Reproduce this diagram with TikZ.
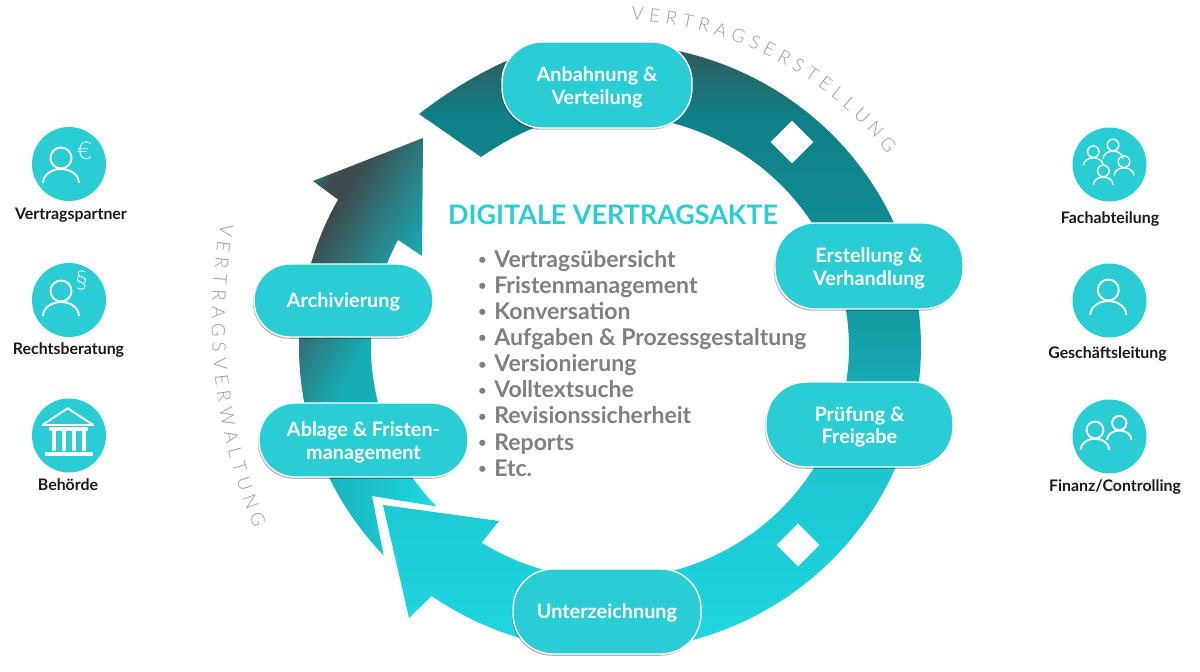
\documentclass[tikz,border=0pt]{standalone}
\usepackage{fontspec}
\setmainfont{Lato}
\newfontfamily\thinfont{Lato Light}
\usetikzlibrary{shapes.geometric,shadows,decorations.text}
\definecolor{pillcyan}{HTML}{2BCDD4}
\definecolor{ringcyan}{HTML}{1FD8E2}
\definecolor{listgray}{HTML}{7F7F7F}
\definecolor{ringdark}{HTML}{3E4B4D}
\definecolor{ringteal}{HTML}{0F8087}
\definecolor{ringmid}{HTML}{128F96}
\definecolor{ringlow}{HTML}{1BB5BE}
\definecolor{ringbright}{HTML}{1CC2CC}
\definecolor{arrowend}{HTML}{17ADB5}
\definecolor{arrowtip}{HTML}{1A8A90}
\pgfdeclareverticalshading{topshade}{100bp}{color(0bp)=(ringmid); color(25bp)=(ringmid); color(56bp)=(ringteal); color(75bp)=(ringdark); color(100bp)=(ringdark)}
\pgfdeclarehorizontalshading{arrowshade}{100bp}{color(0bp)=(arrowtip); color(24bp)=(arrowtip); color(31bp)=(ringdark); color(35bp)=(ringdark); color(60bp)=(arrowend); color(100bp)=(arrowend)}
\def\outr#1{([shift={(c)}]#1:311 and 304)}
\def\innr#1{([shift={(c)}]#1:239 and 232)}
\def\oarc#1#2{arc[start angle=#1,end angle=#2,x radius=311,y radius=304]}
\def\iarc#1#2{arc[start angle=#1,end angle=#2,x radius=239,y radius=232]}
\def\dotitem{\makebox[.32cm][l]{\raisebox{.12em}{\fontsize{8}{8}\selectfont\textbullet}}}
\tikzset{
pill/.style={rectangle,rounded corners=.8cm,draw=white,line width=.8pt,fill=pillcyan,text=white,align=center,font=\fontsize{11.3}{13}\selectfont\bfseries,drop shadow={shadow xshift=-.6pt,shadow yshift=-1pt,opacity=.3,fill=black}},
oneline/.style={text height=10.2pt},
twoline/.style={text height=24.2pt},
disc/.style={circle,fill=pillcyan,minimum size=1.48cm,inner sep=0pt},
who/.style={text=black!90,font=\fontsize{9.05}{10}\selectfont\bfseries,inner sep=0pt},
gem/.style={diamond,fill=white,minimum size=.86cm,inner sep=0pt},
sign/.style={text=white,inner sep=0pt,font=\thinfont\fontsize{14}{14}\selectfont},
pics/person/.style={code={
\draw[white,line width=#1] (0,0) circle[radius=10.5];
\draw[white,line width=#1] (-18,25) arc[start angle=-180,end angle=0,x radius=18,y radius=14];
}},
pics/person/.default=1.1pt
}
\begin{document}
\begin{tikzpicture}[x=.02cm,y=-.02cm]
\useasboundingbox (0,0) rectangle (1200,672);
\coordinate (c) at (610,347);
% ring
\shade[shading=topshade] (419,114) .. controls (450,90) and (480,73) .. (504,62) \oarc{-110}{-15.6} -- \innr{-20.7} \iarc{-20.7}{-105} .. controls (525,130) and (503,142) .. (481,157) -- cycle;
\shade[top color=ringmid,bottom color=ringlow] \outr{-15.6} \oarc{-15.6}{14.9} -- \innr{19.6} \iarc{19.6}{-20.7} -- cycle;
\shade[top color=ringbright,middle color=ringcyan,bottom color=ringcyan] \outr{14.9} \oarc{14.9}{125} -- (409,618) -- (383,505) -- (499,521) -- \innr{122.5} \iarc{122.5}{19.6} -- cycle;
\shade[left color=arrowend,right color=ringcyan] (372,496) -- \outr{136.7} \oarc{136.7}{162.2} -- \innr{156.4} \iarc{156.4}{136.6} -- cycle;
\shade[shading=arrowshade,shading angle=-30] \outr{162.2} \oarc{162.2}{209} -- (313,181) -- (423,138) -- (422,256) -- \innr{207.5} \iarc{207.5}{156.4} -- cycle;
\node[gem] (upgem) at (792,142) {};
\node[gem] (lowgem) at (798,545) {};
% steps
\node[pill,twoline,minimum width=3.8cm,minimum height=1.72cm] (anb) at (597,85) {Anbahnung \&\\Verteilung};
\node[pill,twoline,minimum width=3.76cm,minimum height=1.72cm] (erst) at (869,266) {Erstellung \&\\Verhandlung};
\node[pill,twoline,minimum width=3.74cm,minimum height=1.7cm] (pruef) at (859.5,424.5) {Prüfung \&\\Freigabe};
\node[pill,oneline,minimum width=3.76cm,minimum height=1.7cm] (unter) at (607,611.5) {Unterzeichnung};
\node[pill,twoline,minimum width=4.18cm,minimum height=1.48cm,rounded corners=.72cm] (abl) at (363.5,440) {Ablage \& Fristen-\\management};
\node[pill,oneline,minimum width=3.58cm,minimum height=1.46cm,rounded corners=.72cm] (arch) at (343.5,300.5) {Archivierung};
% centre text
\node[text=pillcyan,font=\fontsize{15.3}{16}\selectfont\bfseries,inner sep=0pt] (head) at (613,215) {DIGITALE VERTRAGSAKTE};
\node[text=listgray,font=\fontsize{13.1}{14.85}\selectfont\bfseries,align=left,anchor=north west,inner sep=0pt] (list) at (478,250) {%
\dotitem Vertragsübersicht\\
\dotitem Fristenmanagement\\
\dotitem Konversation\\
\dotitem Aufgaben \& Prozessgestaltung\\
\dotitem Versionierung\\
\dotitem Volltextsuche\\
\dotitem Revisionssicherheit\\
\dotitem Reports\\
\dotitem Etc.};
% curved titles
\path[decorate,decoration={text along path,text={|\thinfont\fontsize{10.5}{12}\selectfont\color{black!40}|VERTRAGSERSTELLUNG},text align=fit to path}] ([shift={(610,352)}]-86.5:345 and 333) arc[start angle=-86.5,end angle=-36.5,x radius=345,y radius=333];
\path[decorate,decoration={text along path,text={|\thinfont\fontsize{10.5}{12}\selectfont\color{black!40}|VERTRAGSVERWALTUNG},text align=fit to path}] ([shift={(744,320)}]190.5:532) arc[start angle=190.5,end angle=157,radius=532];
% left column
\node[disc] (partner) at (69,164) {};
\node[disc] (recht) at (69,300) {};
\node[disc] (amt) at (69,435.5) {};
\node[who] (partnerl) at (71,215.5) {Vertragspartner};
\node[who] (rechtl) at (68.5,350.5) {Rechtsberatung};
\node[who] (amtl) at (68,485) {Behörde};
\pic at (61,158) {person};
\pic at (61,291) {person};
\node[sign] (euro) at (84.5,151) {€};
\node[sign] (para) at (81.5,281) {§};
\draw[white,line width=1.1pt,line join=round] (42.5,425) -- (67.7,408.3) -- (93.3,425) -- cycle;
\fill[white] (49,426.5) rectangle (88,430.5);
\fill[white] (45,451.5) rectangle (92.7,456);
\foreach \colx in {52,62,72,81.5} \fill[white] (\colx,431) rectangle ++(4,20);
% right column
\node[disc] (fach) at (1109.5,164.5) {};
\node[disc] (chef) at (1109.5,300.5) {};
\node[disc] (fin) at (1109.5,436.5) {};
\node[who] (fachl) at (1110,219.5) {Fachabteilung};
\node[who] (chefl) at (1107.5,354.5) {Geschäftsleitung};
\node[who] (finl) at (1115,487) {Finanz/Controlling};
\pic[scale=.55] at (1093.3,151.7) {person=.8pt};
\pic[scale=.55] at (1113,145) {person=.8pt};
\pic[scale=.55] at (1124,161.7) {person=.8pt};
\pic[scale=.55] at (1103.3,171) {person=.8pt};
\pic at (1108.3,290) {person};
\pic[scale=.8] at (1095,430) {person};
\pic[scale=.68] at (1119.3,423) {person};
\end{tikzpicture}
\end{document}
